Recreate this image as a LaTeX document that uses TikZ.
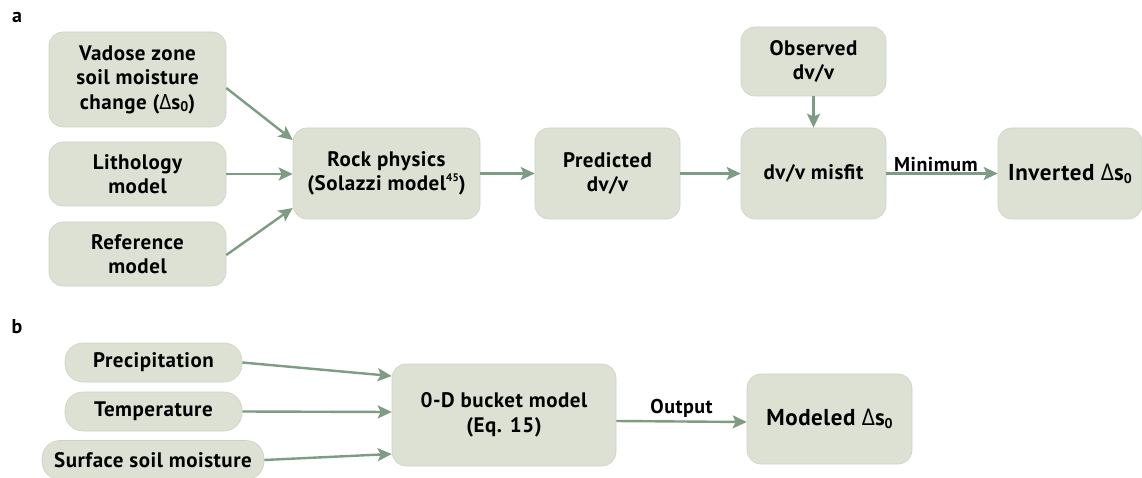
\documentclass[tikz,border=0pt]{standalone}
\usepackage{fontspec}
\setmainfont{PT Sans}[LetterSpace=2.5]
\newfontfamily\dfont{Open Sans}
\usetikzlibrary{arrows.meta}
\definecolor{boxfill}{HTML}{DCE1D3}
\definecolor{boxedge}{HTML}{CDD3C3}
\definecolor{arr}{HTML}{7D9C84}
\newcommand{\dlt}{{\dfont\mdseries Δ}}
\newcommand{\subz}{\raisebox{-0.25ex}{\fontsize{14}{14}\selectfont 0}}
\newcommand{\supft}{\raisebox{0.9ex}{\fontsize{11}{11}\selectfont 45}}
\tikzset{
  box/.style={rounded corners=14pt, fill=boxfill, draw=boxedge, line width=0.6pt,
    align=center, inner sep=0pt, font=\bfseries\fontsize{21}{24.5}\selectfont},
  pill/.style={box, rounded corners=18pt},
  bigtxt/.style={font=\bfseries\fontsize{23}{27}\selectfont},
  conn/.style={draw=arr, line width=2.4pt, -{Stealth[length=14pt,width=13pt,inset=3pt]}},
  lbl/.style={font=\bfseries\fontsize{20}{24}\selectfont, inner sep=1pt},
  panel/.style={font=\bfseries\fontsize{20}{24}\selectfont, inner sep=0pt}
}
\begin{document}
\begin{tikzpicture}[x=1pt,y=-1pt]
\useasboundingbox[fill=white] (0,0) rectangle (1142,478);
% panel labels
\node[panel] (la) at (17,17) {a};
\node[panel] (lb) at (17,327) {b};
% panel a
\node[box, minimum width=177pt, minimum height=95pt] (vad) at (137.5,79.5) {Vadose zone\\soil moisture\\change (\dlt s\subz)};
\node[box, minimum width=177pt, minimum height=64pt] (lith) at (137.5,174) {Lithology\\model};
\node[box, minimum width=177pt, minimum height=64pt] (ref) at (137.5,254) {Reference\\model};
\node[box, minimum width=187pt, minimum height=91pt] (rock) at (386.5,173.5) {Rock physics\\(Solazzi model\supft)};
\node[box, minimum width=145pt, minimum height=91pt] (pred) at (607.5,173.5) {Predicted\\dv/v};
\node[box, minimum width=145pt, minimum height=91pt] (mis) at (813.5,173.5) {dv/v misfit};
\node[box, minimum width=145pt, minimum height=69pt] (obs) at (813.5,61.5) {Observed\\dv/v};
\node[box, bigtxt, minimum width=144pt, minimum height=91pt] (inv) at (1070,173.5) {Inverted \dlt s\subz};
\draw[conn] ([yshift=-8.5pt]vad.east) -- ([yshift=33.5pt]rock.west);
\draw[conn] (lith.east) -- (lith.east -| rock.west);
\draw[conn] ([yshift=-1pt]ref.east) -- ([yshift=-34.5pt]rock.west);
\draw[conn] (rock.east) -- (pred.west);
\draw[conn] (pred.east) -- (mis.west);
\draw[conn] (obs.south) -- (mis.north);
\draw[conn] (mis.east) -- node[lbl, above, xshift=-6pt] (lmin) {Minimum} (inv.west);
% panel b
\node[pill, minimum width=177pt, minimum height=39pt] (prec) at (153.5,362.5) {Precipitation};
\node[pill, minimum width=177pt, minimum height=39pt] (temp) at (153.5,411.5) {Temperature};
\node[pill, minimum width=222pt, minimum height=39pt] (surf) at (153,460) {Surface soil moisture};
\node[box, minimum width=224pt, minimum height=102pt] (buck) at (504,415) {0-D bucket model\\(Eq. 15)};
\node[box, bigtxt, minimum width=165pt, minimum height=90pt] (mod) at (829.5,419) {Modeled \dlt s\subz};
\draw[conn] (prec.east) -- ([yshift=39pt]buck.west);
\draw[conn] (temp.east) -- ([yshift=3pt]buck.west);
\draw[conn] (surf.east) -- ([yshift=-39pt]buck.west);
\draw[conn] ([yshift=-6pt]buck.east) -- node[lbl, above, yshift=2pt] (lout) {Output} ([yshift=-3pt]mod.west);
\end{tikzpicture}
\end{document}
